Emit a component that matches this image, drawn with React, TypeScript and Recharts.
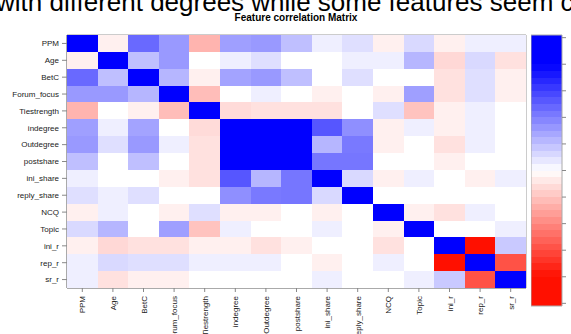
import { ScatterChart, Scatter, XAxis, YAxis, ReferenceArea } from 'recharts';

const FEATURES = [
  'PPM', 'Age', 'BetC', 'Forum_focus', 'Tiestrength', 'indegree', 'Outdegree', 'postshare',
  'ini_share', 'reply_share', 'NCQ', 'Topic', 'ini_r', 'rep_r', 'sr_r',
];

// correlation matrix, rows in the same order as FEATURES
const CORR = [
  [1, -0.05, 0.47, 0.32, -0.25, 0.3, 0.32, 0.2, 0.05, 0.1, -0.05, 0.12, -0.05, 0.05, 0.05],
  [-0.05, 1, 0.2, 0.32, 0, 0.05, 0.1, 0, 0, 0.05, 0.05, 0.23, -0.13, 0.12, -0.1],
  [0.47, 0.2, 1, 0.23, -0.05, 0.29, 0.32, 0.2, 0, 0.1, 0, 0, -0.1, 0.1, -0.05],
  [0.32, 0.32, 0.23, 1, -0.22, 0, 0.05, 0, -0.05, 0, -0.05, 0.3, -0.1, 0.1, -0.05],
  [-0.25, 0, -0.05, -0.22, 1, -0.12, -0.1, -0.1, -0.1, 0, 0.1, -0.2, -0.05, 0.05, 0],
  [0.3, 0.05, 0.29, 0, -0.12, 1, 0.96, 0.95, 0.53, 0.35, -0.05, 0.05, -0.05, 0.05, 0],
  [0.32, 0.1, 0.32, 0.05, -0.1, 0.96, 1, 0.94, 0.23, 0.42, -0.05, 0, -0.1, 0.05, 0],
  [0.2, 0, 0.2, 0, -0.1, 0.95, 0.94, 1, 0.43, 0.43, 0, 0, -0.05, 0, 0],
  [0.05, 0, 0, -0.05, -0.1, 0.53, 0.23, 0.43, 1, 0.12, -0.05, 0.05, 0, -0.05, 0.05],
  [0.1, 0.05, 0.1, 0, 0, 0.35, 0.42, 0.43, 0.12, 1, 0, 0, 0, 0, 0],
  [-0.05, 0.05, 0, -0.05, 0.1, -0.05, -0.05, 0, -0.05, 0, 1, -0.05, -0.1, 0.05, 0],
  [0.12, 0.23, 0, 0.3, -0.2, 0.05, 0, 0, 0.05, 0, -0.05, 1, 0, 0, 0.05],
  [-0.05, -0.13, -0.1, -0.1, -0.05, -0.05, -0.1, -0.05, 0, 0, -0.1, 0, 1, -0.88, 0.17],
  [0.05, 0.12, 0.1, 0.1, 0.05, 0.05, 0.05, 0, -0.05, 0, 0.05, 0, -0.88, 1, -0.58],
  [0.05, -0.1, -0.05, -0.05, 0, 0, 0, 0, 0.05, 0, 0, 0.05, 0.17, -0.58, 1],
];

const COLORBAR_TICKS = [-1, -0.8, -0.6, -0.4, -0.2, 0, 0.2, 0.4, 0.6, 0.8, 1];
const COLORBAR_STEP = 0.05;

const FONT = '"Liberation Sans", Arial, Helvetica, sans-serif';
const W = 571;
const H = 334;
const PLOT = { left: 67, right: 526, top: 35, bottom: 288 };
const N = FEATURES.length;
const CW = (PLOT.right - PLOT.left) / N;
const CH = (PLOT.bottom - PLOT.top) / N;
const SAT = 0.8;

function cellColor(v: number) {
  const t = Math.min(1, Math.abs(v) / SAT);
  const c = Math.round(255 * (1 - t));
  if (v >= 0) return `rgb(${c},${c},255)`;
  return `rgb(255,${Math.round(16 + 239 * (1 - t))},${c})`;
}

const cells = CORR.flatMap((row, r) => row.map((v, c) => ({ x: c + 0.5, y: r + 0.5, v })));
const centers = FEATURES.map((_, i) => i + 0.5);

const bands: { y1: number; y2: number; fill: string }[] = [];
for (let b = -1; b < 1 - 1e-9; b += COLORBAR_STEP) {
  const lo = +b.toFixed(3);
  const hi = +(b + COLORBAR_STEP).toFixed(3);
  bands.push({
    y1: lo <= -1 ? -1.02 : lo,
    y2: hi >= 1 ? 1.02 : hi,
    fill: cellColor(lo + COLORBAR_STEP / 2),
  });
}

const Cell = (props: any) => (
  <rect
    x={props.cx - CW / 2}
    y={props.cy - CH / 2}
    width={CW}
    height={CH}
    fill={cellColor(props.payload.v)}
    shapeRendering="crispEdges"
  />
);

const XTick = (props: any) => {
  const { x, y, payload } = props;
  return (
    <text
      transform={`translate(${x + 3},${y + 2}) rotate(-90)`}
      textAnchor="end"
      fontSize={8}
      fontFamily={FONT}
      fill="#222"
    >
      {FEATURES[Math.floor(payload.value)]}
    </text>
  );
};

export default function App() {
  return (
    <div style={{ position: 'absolute', left: 0, top: 0, width: W, height: H, overflow: 'hidden', background: '#fff' }}>
      <svg width={W} height={H} style={{ position: 'absolute', left: 0, top: 0 }}>
        <text x={-4} y={10.5} fontSize={26} fontFamily={FONT} fill="#000">
          with different degrees while some features seem c
        </text>
        <text x={296} y={21} fontSize={10} fontWeight="bold" textAnchor="middle" fontFamily={FONT} fill="#000">
          Feature correlation Matrix
        </text>
      </svg>

      <div style={{ position: 'absolute', left: 0, top: 0 }}>
        <ScatterChart
          width={W}
          height={H}
          margin={{ top: PLOT.top, right: W - PLOT.right, bottom: H - PLOT.bottom - 40, left: PLOT.left - 60 }}
        >
          <XAxis
            type="number"
            dataKey="x"
            domain={[0, N]}
            ticks={centers}
            height={40}
            interval={0}
            tick={<XTick />}
            tickSize={4}
            stroke="#888"
          />
          <YAxis
            type="number"
            dataKey="y"
            domain={[0, N]}
            reversed
            ticks={centers}
            width={60}
            interval={0}
            tickSize={5}
            tickMargin={3}
            tickFormatter={(v: number) => FEATURES[Math.floor(v)]}
            tick={{ fontSize: 8, fill: '#222', fontFamily: FONT }}
            stroke="#888"
          />
          <Scatter data={cells} shape={<Cell />} isAnimationActive={false} />
          <ReferenceArea x1={0} x2={N} y1={0} y2={N} fill="none" stroke="#999" strokeWidth={1} />
        </ScatterChart>
      </div>

      <div style={{ position: 'absolute', left: 531, top: 0 }}>
        <ScatterChart width={40} height={H} margin={{ top: 35, right: 0, bottom: H - 306, left: 0 }}>
          <XAxis type="number" dataKey="x" domain={[0, 1]} hide />
          <YAxis
            type="number"
            dataKey="y"
            orientation="right"
            domain={[-1.02, 1.02]}
            ticks={COLORBAR_TICKS}
            interval={0}
            width={9}
            axisLine={false}
            tickSize={4}
            tickFormatter={() => ''}
            tickLine={{ stroke: '#888' }}
          />
          <Scatter
            data={COLORBAR_TICKS.map((v) => ({ x: 0.5, y: v }))}
            shape={() => <g />}
            isAnimationActive={false}
          />
          {bands.map((b, i) => (
            <ReferenceArea key={i} x1={0} x2={1} y1={b.y1} y2={b.y2} fill={b.fill} fillOpacity={1} stroke="none" shapeRendering="crispEdges" />
          ))}
          <ReferenceArea x1={0} x2={1} y1={-1.02} y2={1.02} fill="none" stroke="#aaa" />
        </ScatterChart>
      </div>
    </div>
  );
}
